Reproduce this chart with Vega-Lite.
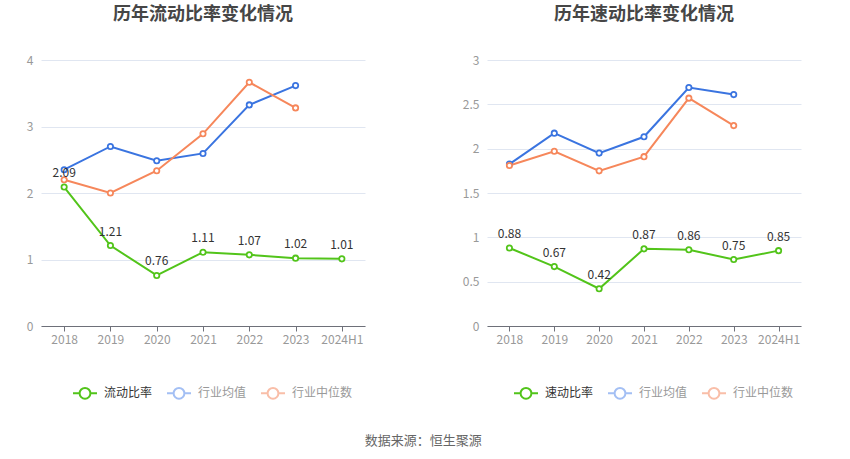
{
  "$schema": "https://vega.github.io/schema/vega-lite/v6.json",
  "background": "#ffffff",
  "padding": {"left": 26, "top": 6, "right": 5, "bottom": 5},
  "spacing": 78,
  "title": {"text": "数据来源：恒生聚源", "orient": "bottom", "anchor": "middle", "fontSize": 13, "fontWeight": "normal", "color": "#666666", "font": "Noto Sans CJK SC", "offset": 1},
  "config": {
    "font": "Noto Sans CJK SC",
    "view": {"stroke": null},
    "axisX": {"domainColor": "#6e7079", "tickColor": "#6e7079", "tickSize": 5, "labelColor": "#999999", "labelFontSize": 12, "labelPadding": 3, "grid": false, "title": null, "labelAngle": 0},
    "axisY": {"domain": false, "ticks": false, "tickSize": 0, "labelColor": "#999999", "labelFontSize": 12, "labelPadding": 8, "gridColor": "#e0e6f1", "title": null},
    "title": {"fontSize": 18, "fontWeight": "bold", "color": "#464646", "offset": 30}
  },
  "datasets": {
    "rows": [
      {"panel": "current", "year": "2018", "series": "流动比率", "value": 2.09},
      {"panel": "current", "year": "2019", "series": "流动比率", "value": 1.21},
      {"panel": "current", "year": "2020", "series": "流动比率", "value": 0.76},
      {"panel": "current", "year": "2021", "series": "流动比率", "value": 1.11},
      {"panel": "current", "year": "2022", "series": "流动比率", "value": 1.07},
      {"panel": "current", "year": "2023", "series": "流动比率", "value": 1.02},
      {"panel": "current", "year": "2024H1", "series": "流动比率", "value": 1.01},
      {"panel": "current", "year": "2018", "series": "行业均值", "value": 2.35},
      {"panel": "current", "year": "2019", "series": "行业均值", "value": 2.7},
      {"panel": "current", "year": "2020", "series": "行业均值", "value": 2.485},
      {"panel": "current", "year": "2021", "series": "行业均值", "value": 2.595},
      {"panel": "current", "year": "2022", "series": "行业均值", "value": 3.325},
      {"panel": "current", "year": "2023", "series": "行业均值", "value": 3.615},
      {"panel": "current", "year": "2018", "series": "行业中位数", "value": 2.2},
      {"panel": "current", "year": "2019", "series": "行业中位数", "value": 2.0},
      {"panel": "current", "year": "2020", "series": "行业中位数", "value": 2.335},
      {"panel": "current", "year": "2021", "series": "行业中位数", "value": 2.89},
      {"panel": "current", "year": "2022", "series": "行业中位数", "value": 3.665},
      {"panel": "current", "year": "2023", "series": "行业中位数", "value": 3.28},
      {"panel": "quick", "year": "2018", "series": "速动比率", "value": 0.88},
      {"panel": "quick", "year": "2019", "series": "速动比率", "value": 0.67},
      {"panel": "quick", "year": "2020", "series": "速动比率", "value": 0.42},
      {"panel": "quick", "year": "2021", "series": "速动比率", "value": 0.87},
      {"panel": "quick", "year": "2022", "series": "速动比率", "value": 0.86},
      {"panel": "quick", "year": "2023", "series": "速动比率", "value": 0.75},
      {"panel": "quick", "year": "2024H1", "series": "速动比率", "value": 0.85},
      {"panel": "quick", "year": "2018", "series": "行业均值", "value": 1.826},
      {"panel": "quick", "year": "2019", "series": "行业均值", "value": 2.175},
      {"panel": "quick", "year": "2020", "series": "行业均值", "value": 1.95},
      {"panel": "quick", "year": "2021", "series": "行业均值", "value": 2.134},
      {"panel": "quick", "year": "2022", "series": "行业均值", "value": 2.69},
      {"panel": "quick", "year": "2023", "series": "行业均值", "value": 2.61},
      {"panel": "quick", "year": "2018", "series": "行业中位数", "value": 1.81},
      {"panel": "quick", "year": "2019", "series": "行业中位数", "value": 1.97},
      {"panel": "quick", "year": "2020", "series": "行业中位数", "value": 1.75},
      {"panel": "quick", "year": "2021", "series": "行业中位数", "value": 1.91},
      {"panel": "quick", "year": "2022", "series": "行业中位数", "value": 2.57},
      {"panel": "quick", "year": "2023", "series": "行业中位数", "value": 2.26}
    ]
  },
  "resolve": {"scale": {"color": "independent", "y": "independent", "x": "independent", "shape": "independent", "stroke": "independent"}, "legend": {"color": "independent", "shape": "independent", "stroke": "independent"}},
  "hconcat": [
    {
      "width": 324,
      "height": 266,
      "title": {"text": "历年流动比率变化情况"},
      "data": {"name": "rows"},
      "transform": [{"filter": "datum.panel === 'current'"}],
      "encoding": {
        "x": {"field": "year", "type": "ordinal", "scale": {"type": "point", "padding": 0.5}, "sort": ["2018", "2019", "2020", "2021", "2022", "2023", "2024H1"]},
        "y": {"field": "value", "type": "quantitative", "scale": {"domain": [0, 4], "nice": false}, "axis": {"values": [0, 1, 2, 3, 4], "format": "~g"}}
      },
      "layer": [
        {"mark": {"type": "line", "strokeWidth": 2}, "encoding": {"color": {"field": "series", "type": "nominal", "legend": null, "sort": ["流动比率", "行业均值", "行业中位数"], "scale": {"range": ["#52c41a", "#3a74e0", "#f6875b"]}}}},
        {"mark": {"type": "point", "filled": false, "strokeWidth": 1.8, "size": 28, "opacity": 1, "fill": "#ffffff", "fillOpacity": 1}, "encoding": {"stroke": {"field": "series", "type": "nominal", "legend": null, "sort": ["流动比率", "行业均值", "行业中位数"], "scale": {"range": ["#52c41a", "#3a74e0", "#f6875b"]}}}},
        {"transform": [{"filter": "datum.series === '流动比率'"}], "mark": {"type": "text", "dy": -14, "fontSize": 12, "color": "#333333"}, "encoding": {"text": {"field": "value", "type": "quantitative", "format": ".2f"}}},
        {
          "mark": {"type": "point", "opacity": 0},
          "encoding": {
            "shape": {
              "field": "series", "type": "nominal",
              "scale": {"domain": ["流动比率", "行业均值", "行业中位数"], "range": ["M-1,0L-0.45,0M0.45,0L1,0M-0.45,0A0.45,0.45,0,1,1,0.45,0A0.45,0.45,0,1,1,-0.45,0", "M-1,0L-0.45,0M0.45,0L1,0M-0.45,0A0.45,0.45,0,1,1,0.45,0A0.45,0.45,0,1,1,-0.45,0", "M-1,0L-0.45,0M0.45,0L1,0M-0.45,0A0.45,0.45,0,1,1,0.45,0A0.45,0.45,0,1,1,-0.45,0"]},
              "legend": {
                "title": null, "orient": "bottom", "offset": 4, "padding": 31, "direction": "horizontal",
                "symbolSize": 576, "symbolStrokeWidth": 2, "symbolOpacity": 1, "symbolFillColor": "#ffffff",
                "symbolStrokeColor": {"expr": "datum.value === '行业均值' ? '#a3bff4' : datum.value === '行业中位数' ? '#f9bea8' : '#52c41a'"},
                "labelColor": {"expr": "datum.value === '行业均值' || datum.value === '行业中位数' ? '#999999' : '#333333'"},
                "labelFontSize": 12, "labelOffset": 6, "columnPadding": 10
              }
            }
          }
        }
      ]
    },
    {
      "width": 314,
      "height": 266,
      "title": {"text": "历年速动比率变化情况"},
      "data": {"name": "rows"},
      "transform": [{"filter": "datum.panel === 'quick'"}],
      "encoding": {
        "x": {"field": "year", "type": "ordinal", "scale": {"type": "point", "padding": 0.5}, "sort": ["2018", "2019", "2020", "2021", "2022", "2023", "2024H1"]},
        "y": {"field": "value", "type": "quantitative", "scale": {"domain": [0, 3], "nice": false}, "axis": {"values": [0, 0.5, 1, 1.5, 2, 2.5, 3], "format": "~g"}}
      },
      "layer": [
        {"mark": {"type": "line", "strokeWidth": 2}, "encoding": {"color": {"field": "series", "type": "nominal", "legend": null, "sort": ["速动比率", "行业均值", "行业中位数"], "scale": {"range": ["#52c41a", "#3a74e0", "#f6875b"]}}}},
        {"mark": {"type": "point", "filled": false, "strokeWidth": 1.8, "size": 28, "opacity": 1, "fill": "#ffffff", "fillOpacity": 1}, "encoding": {"stroke": {"field": "series", "type": "nominal", "legend": null, "sort": ["速动比率", "行业均值", "行业中位数"], "scale": {"range": ["#52c41a", "#3a74e0", "#f6875b"]}}}},
        {"transform": [{"filter": "datum.series === '速动比率'"}], "mark": {"type": "text", "dy": -14, "fontSize": 12, "color": "#333333"}, "encoding": {"text": {"field": "value", "type": "quantitative", "format": ".2f"}}},
        {
          "mark": {"type": "point", "opacity": 0},
          "encoding": {
            "shape": {
              "field": "series", "type": "nominal",
              "scale": {"domain": ["速动比率", "行业均值", "行业中位数"], "range": ["M-1,0L-0.45,0M0.45,0L1,0M-0.45,0A0.45,0.45,0,1,1,0.45,0A0.45,0.45,0,1,1,-0.45,0", "M-1,0L-0.45,0M0.45,0L1,0M-0.45,0A0.45,0.45,0,1,1,0.45,0A0.45,0.45,0,1,1,-0.45,0", "M-1,0L-0.45,0M0.45,0L1,0M-0.45,0A0.45,0.45,0,1,1,0.45,0A0.45,0.45,0,1,1,-0.45,0"]},
              "legend": {
                "title": null, "orient": "bottom", "offset": 9, "padding": 26, "direction": "horizontal",
                "symbolSize": 576, "symbolStrokeWidth": 2, "symbolOpacity": 1, "symbolFillColor": "#ffffff",
                "symbolStrokeColor": {"expr": "datum.value === '行业均值' ? '#a3bff4' : datum.value === '行业中位数' ? '#f9bea8' : '#52c41a'"},
                "labelColor": {"expr": "datum.value === '行业均值' || datum.value === '行业中位数' ? '#999999' : '#333333'"},
                "labelFontSize": 12, "labelOffset": 6, "columnPadding": 10
              }
            }
          }
        }
      ]
    }
  ]
}
